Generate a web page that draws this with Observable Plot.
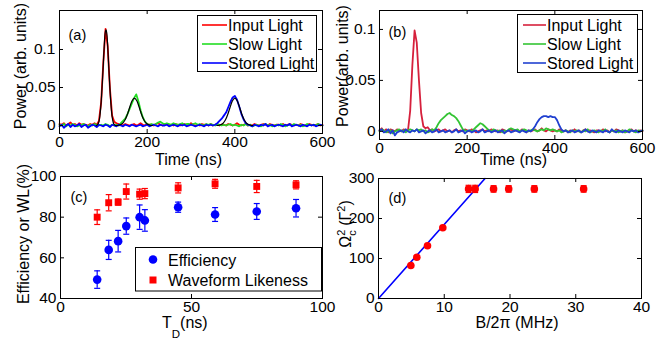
<!DOCTYPE html>
<html><head><meta charset="utf-8">
<script src="https://cdn.jsdelivr.net/npm/d3@7"></script>
<script src="https://cdn.jsdelivr.net/npm/@observablehq/plot@0.6"></script>
<style>
html,body{margin:0;padding:0;background:#fff;}
#fig{position:relative;width:670px;height:339px;overflow:hidden;background:#fff;}
#fig > svg{position:absolute;margin:0;}
</style></head><body><div id="fig"></div>
<script>
// ---------- DATA ----------
// Panels (a),(b): power traces sampled every 5 ns from 0 to 600 ns, values in units of 0.001 (arb. units)
const timeStepNs = 5;
const inputA = [
  2,1,3,0,2,4,1,2,0,3,
  1,2,1,0,2,1,3,1,6,30,
  83,127,104,49,13,5,3,2,1,0,
  2,1,0,1,2,0,1,3,1,0,
  2,1,1,0,2,3,1,0,1,2,
  0,1,0,2,1,0,1,2,1,0,
  3,1,0,1,0,2,1,1,0,2,
  0,1,2,0,1,1,0,2,1,0,
  1,3,1,0,1,2,0,1,0,2,
  1,0,1,2,1,0,2,1,0,1,
  1,0,2,0,1,2,1,0,1,0,
  2,1,0,1,2,1,0,1,2,0,
  1];
const slowA = [
  1,0,2,-1,1,0,2,1,-1,0,
  1,2,0,-1,1,0,2,1,0,1,
  0,2,1,-1,1,0,1,0,3,6,
  9,15,22,29,36,41,32,20,11,5,
  2,1,2,1,2,4,5,3,2,3,
  2,1,3,2,1,2,3,1,2,2,
  1,2,3,1,2,1,0,2,1,2,
  1,0,2,1,0,1,0,1,2,0,
  1,0,-1,1,0,2,0,1,-1,0,
  1,0,-1,1,2,0,1,-1,0,1,
  0,2,1,-1,0,1,0,2,1,0,
  1,-1,0,2,1,0,1,0,2,1,
  0];
const storedA = [
  -1,1,-3,0,2,-2,1,-1,0,2,
  -2,0,1,-3,-1,1,0,-2,1,0,
  -1,1,0,-2,1,0,-1,1,0,-1,
  1,0,-1,1,0,-1,0,1,-1,0,
  1,-1,0,1,0,-1,1,0,0,1,
  -1,0,1,0,-1,1,0,1,-1,0,
  1,0,-1,0,1,0,-1,1,0,1,
  0,1,3,6,9,13,17,24,31,37,
  39,34,25,15,8,3,1,0,-1,1,
  0,-1,1,0,2,-1,0,1,-1,0,
  1,0,-1,1,0,2,-1,0,1,0,
  -1,1,0,-1,1,0,1,-1,0,1,
  0];
// Gaussian fits drawn in black in panel (a) (ns, 0.001 units)
const fitInputT = [84,88,92,96,99,102,104,106,108,110,113,116,120,124,128];
const fitInputV = [0,2,12,39,70,104,121,126,121,104,70,39,12,2,0];
const fitSlowT = [130,135,140,145,150,155,160,165,171,177,182,187,192,197,202,207,212];
const fitSlowV = [0,0.4,1.3,3.5,7.8,14.8,23.7,31.8,36,31.8,23.7,14.8,7.8,3.5,1.3,0.4,0];
const fitStoredT = [359,364,369,374,379,384,389,394,400,406,411,416,421,426,431,436,441];
const fitStoredV = [0,0.4,1.3,3.5,7.8,14.8,23.7,31.8,36,31.8,23.7,14.8,7.8,3.5,1.3,0.4,0];

const inputB = [
  1,3,0,2,-1,2,1,0,2,1,
  0,2,1,1,20,65,99,87,50,18,
  5,3,4,1,2,0,1,2,0,1,
  2,0,1,-1,1,2,0,1,0,2,
  1,0,2,1,-1,0,1,2,0,1,
  0,2,1,0,1,-1,2,1,0,1,
  2,0,1,1,0,2,1,-1,1,0,
  1,2,0,1,3,1,0,2,1,0,
  1,0,2,1,0,1,-1,1,0,2,
  0,1,-1,1,2,0,1,0,-1,1,
  1,0,2,0,1,-1,1,0,2,1,
  0,1,-1,0,1,2,0,1,0,1,
  0];
const slowB = [
  0,2,1,-1,0,1,-2,0,1,2,
  0,1,-1,1,2,1,0,2,1,2,
  0,1,-1,0,2,1,4,8,11,13,
  15,17,18,16,15,13,10,6,2,1,
  0,1,0,2,4,6,8,7,5,3,
  1,0,2,1,0,1,-1,1,0,2,
  3,2,1,2,0,1,2,1,0,1,
  2,1,0,1,2,1,3,2,1,2,
  1,0,1,-1,0,1,0,-1,1,0,
  1,0,-1,1,0,2,-1,0,1,0,
  -1,1,0,2,0,-1,1,0,1,-1,
  0,1,-1,0,2,1,0,-1,1,0,
  1];
const storedB = [
  1,2,-1,0,2,-2,1,-4,-1,0,
  1,-1,2,0,-1,1,0,2,-1,0,
  1,-2,0,1,-1,0,2,-1,0,1,
  -1,0,1,-1,0,2,-1,0,1,-2,
  0,1,-1,0,1,-1,0,2,-1,0,
  1,-1,0,1,-1,0,1,-2,0,1,
  -1,0,1,0,-1,1,0,-1,1,0,
  2,5,9,12,14,15,15,14,15,14,
  14,11,6,2,0,1,-1,0,1,-1,
  0,1,-1,0,2,0,-1,1,0,-1,
  1,0,-1,1,0,-1,2,0,-1,1,
  0,-1,1,0,-1,1,0,1,-1,0,
  1];

// Panel (c)
const tdC = [14.0, 18.4, 22.0, 25.1, 30.2, 32.2, 44.9, 59.0, 74.9, 89.9];
const effC = [49.3, 63.9, 68.2, 75.6, 80.0, 78.4, 84.9, 81.3, 82.8, 84.4];
const effErrC = [4.3, 4.7, 5.3, 4.0, 6.0, 5.3, 2.5, 3.4, 3.9, 4.3];
const wlC = [80.0, 87.1, 87.4, 92.6, 91.3, 91.6, 94.4, 96.4, 95.1, 95.9];
const wlErrC = [3.6, 4.0, 1.5, 3.7, 2.5, 2.5, 2.5, 2.2, 3.0, 2.0];

// Panel (d)
const bD = [4.92, 5.83, 7.45, 9.78, 13.7, 14.7, 17.5, 19.8, 23.7, 31.2];
const omegaD = [82.5, 103, 131.7, 176.7, 274, 274, 274, 274, 274, 274];
const omegaErrD = [3, 3, 3, 3, 9, 9, 8, 8, 8, 8];
const fitB = [0, 16.2];
const fitOmega = [0, 300];

// Tick labels
const xTicksAB = [0, 200, 400, 600];
const yTicksA = [0, 0.05, 0.1];
const yTicksB = [0, 0.05, 0.1];
const xTicksC = [0, 50, 100];
const yTicksC = [40, 60, 80, 100];
const xTicksD = [0, 10, 20, 30, 40];
const yTicksD = [0, 100, 200, 300];

const legendAB = ["Input Light", "Slow Light", "Stored Light"];
const legendC = ["Efficiency", "Waveform Likeness"];

// ---------- BUILD ----------
const FONT = '"Liberation Sans", Arial, Helvetica, sans-serif';
const TICK_FS = 15.5;
const LABEL_FS = 16;
const times = d3.range(0, 600 + timeStepNs, timeStepNs);
const trace = vals => vals.map((v, i) => ({t: times[i], v: v / 1000}));
const fit = (T, V) => T.map((t, i) => ({t, v: V[i] / 1000}));
const fmt = d => String(d);
const capSymbol = {draw(ctx, size) { const w = Math.sqrt(size / Math.PI); ctx.moveTo(-w, 0); ctx.lineTo(w, 0); }};

function frameMarks(xTicks, yTicks, W, H) {
  const L = 4;
  return [
    Plot.frame({stroke: "black", strokeWidth: 1}),
    Plot.tickX(xTicks, {x: d => d, insetTop: H - L, stroke: "black"}),
    Plot.tickX(xTicks, {x: d => d, insetBottom: H - L, stroke: "black"}),
    Plot.tickY(yTicks, {y: d => d, insetLeft: W - L, stroke: "black"}),
    Plot.tickY(yTicks, {y: d => d, insetRight: W - L, stroke: "black"}),
    Plot.axisX(xTicks, {tickSize: 0, tickPadding: 2, label: null, tickFormat: fmt, fontSize: TICK_FS}),
    Plot.axisY(yTicks, {tickSize: 0, tickPadding: 4, label: null, tickFormat: fmt, fontSize: TICK_FS})
  ];
}
const baseStyle = {fontFamily: FONT, fontSize: TICK_FS + "px", background: "transparent", color: "black", overflow: "visible"};
const panelLabel = (s, dx, dy) => Plot.text([s], {text: d => d, frameAnchor: "top-left", dx, dy, textAnchor: "start", lineAnchor: "middle", fontSize: 14.5});

const fig = document.getElementById("fig");
function place(svg, left, top) { svg.style.left = left + "px"; svg.style.top = top + "px"; fig.appendChild(svg); }

// (a)
{
  const mL = 59, mR = 13, mT = 10, mB = 37, W = 335, H = 170;
  const p = Plot.plot({
    width: W, height: H, marginLeft: mL, marginRight: mR, marginTop: mT, marginBottom: mB,
    style: baseStyle,
    x: {domain: [0, 600], label: null},
    y: {domain: [-0.0105, 0.1513], label: null},
    marks: [
      Plot.lineY(trace(inputA), {x: "t", y: "v", stroke: "#ff0000", strokeWidth: 1.8}),
      Plot.lineY(trace(slowA), {x: "t", y: "v", stroke: "#22dd22", strokeWidth: 1.8}),
      Plot.lineY(trace(storedA), {x: "t", y: "v", stroke: "#0000ff", strokeWidth: 1.8}),
      Plot.lineY(fit(fitInputT, fitInputV), {x: "t", y: "v", stroke: "black", strokeWidth: 1.2, curve: "monotone-x"}),
      Plot.lineY(fit(fitSlowT, fitSlowV), {x: "t", y: "v", stroke: "black", strokeWidth: 1.2, curve: "monotone-x"}),
      Plot.lineY(fit(fitStoredT, fitStoredV), {x: "t", y: "v", stroke: "black", strokeWidth: 1.2, curve: "monotone-x"}),
      ...frameMarks(xTicksAB, yTicksA, W - mL - mR, H - mT - mB),
      panelLabel("(a)", 9, 25)
    ]
  });
  place(p, 0, 0);
}
// (b)
{
  const mL = 44, mR = 28, mT = 10, mB = 31, W = 335, H = 170;
  const p = Plot.plot({
    width: W, height: H, marginLeft: mL, marginRight: mR, marginTop: mT, marginBottom: mB,
    style: baseStyle,
    x: {domain: [0, 600], label: null},
    y: {domain: [-0.008, 0.1186], label: null},
    marks: [
      Plot.lineY(trace(inputB), {x: "t", y: "v", stroke: "#d6203c", strokeWidth: 1.8}),
      Plot.lineY(trace(slowB), {x: "t", y: "v", stroke: "#33c433", strokeWidth: 1.8}),
      Plot.lineY(trace(storedB), {x: "t", y: "v", stroke: "#2040d0", strokeWidth: 1.8}),
      ...frameMarks(xTicksAB, yTicksB, W - mL - mR, H - mT - mB),
      panelLabel("(b)", 9, 22)
    ]
  });
  place(p, 335, 0);
}
// (c)
{
  const mL = 60, mR = 13, mT = 6, mB = 41, W = 335, H = 169;
  const rows = tdC.map((td, i) => ({td, eff: effC[i], effErr: effErrC[i], wl: wlC[i], wlErr: wlErrC[i]}));
  const p = Plot.plot({
    width: W, height: H, marginLeft: mL, marginRight: mR, marginTop: mT, marginBottom: mB,
    style: baseStyle,
    x: {domain: [0, 100], label: null},
    y: {domain: [40, 100], label: null},
    marks: [
      Plot.ruleX(rows, {x: "td", y1: d => d.wl - d.wlErr, y2: d => d.wl + d.wlErr, stroke: "#ff0000", strokeWidth: 1.2}),
      Plot.dot(rows, {x: "td", y: d => d.wl - d.wlErr, symbol: capSymbol, r: 3, stroke: "#ff0000", fill: "none", strokeWidth: 1.2}),
      Plot.dot(rows, {x: "td", y: d => d.wl + d.wlErr, symbol: capSymbol, r: 3, stroke: "#ff0000", fill: "none", strokeWidth: 1.2}),
      Plot.dot(rows, {x: "td", y: "wl", symbol: "square", r: 3.9, fill: "#ff0000", stroke: "none"}),
      Plot.ruleX(rows, {x: "td", y1: d => d.eff - d.effErr, y2: d => d.eff + d.effErr, stroke: "#0000ff", strokeWidth: 1.2}),
      Plot.dot(rows, {x: "td", y: d => d.eff - d.effErr, symbol: capSymbol, r: 3, stroke: "#0000ff", fill: "none", strokeWidth: 1.2}),
      Plot.dot(rows, {x: "td", y: d => d.eff + d.effErr, symbol: capSymbol, r: 3, stroke: "#0000ff", fill: "none", strokeWidth: 1.2}),
      Plot.dot(rows, {x: "td", y: "eff", r: 4.3, fill: "#0000ff", stroke: "none"}),
      ...frameMarks(xTicksC, yTicksC, W - mL - mR, H - mT - mB),
      panelLabel("(c)", 10, 21)
    ]
  });
  place(p, 0, 170);
}
// (d)
{
  const mL = 43, mR = 29, mT = 8, mB = 41, W = 335, H = 169;
  const rows = bD.map((b, i) => ({b, o: omegaD[i], e: omegaErrD[i]}));
  const line = fitB.map((b, i) => ({b, o: fitOmega[i]}));
  const p = Plot.plot({
    width: W, height: H, marginLeft: mL, marginRight: mR, marginTop: mT, marginBottom: mB,
    style: baseStyle,
    x: {domain: [0, 40], label: null},
    y: {domain: [0, 300], label: null},
    marks: [
      Plot.line(line, {x: "b", y: "o", stroke: "#0000ff", strokeWidth: 1.6}),
      Plot.ruleX(rows, {x: "b", y1: d => d.o - d.e, y2: d => d.o + d.e, stroke: "#ff0000", strokeWidth: 1.2}),
      Plot.dot(rows, {x: "b", y: d => d.o - d.e, symbol: capSymbol, r: 3, stroke: "#ff0000", fill: "none", strokeWidth: 1.2}),
      Plot.dot(rows, {x: "b", y: d => d.o + d.e, symbol: capSymbol, r: 3, stroke: "#ff0000", fill: "none", strokeWidth: 1.2}),
      Plot.dot(rows, {x: "b", y: "o", r: 3.8, fill: "#ff0000", stroke: "none"}),
      ...frameMarks(xTicksD, yTicksD, W - mL - mR, H - mT - mB),
      panelLabel("(d)", 10, 20)
    ]
  });
  place(p, 335, 170);
}

// ---------- overlay: axis titles and legends ----------
const ov = d3.create("svg").attr("width", 670).attr("height", 339)
  .style("position", "absolute").style("left", "0px").style("top", "0px")
  .attr("font-family", FONT).attr("font-size", LABEL_FS);
const t = (s, x, y, anchor = "middle", rot = 0) => {
  const e = ov.append("text").attr("text-anchor", anchor)
    .attr("transform", `translate(${x},${y})` + (rot ? ` rotate(${rot})` : ""));
  if (s != null) e.text(s);
  return e;
};
t("Time (ns)", 188.5, 164.5);
t("Time (ns)", 513.5, 164.5);
t("B/2\u03c0 (MHz)", 517, 328);
const tdl = t(null, 162, 328, "start");
tdl.append("tspan").text("T");
tdl.append("tspan").attr("font-size", 11.5).attr("dy", 10).text("D");
tdl.append("tspan").attr("dy", -10).text("(ns)");
t("Power (arb. units)", 25.5, 66, "middle", -90);
t("Power(arb. units)", 348, 66, "middle", -90);
t("Efficiency or WL(%)", 28.5, 234, "middle", -90);
const om = t(null, 351, 224, "middle", -90);
om.append("tspan").text("\u03a9");
om.append("tspan").attr("font-size", 11).attr("dy", -6).text("2");
om.append("tspan").attr("font-size", 11).attr("dx", -6).attr("dy", 11).text("c");
om.append("tspan").attr("dy", -5).text(" (\u0393");
om.append("tspan").attr("font-size", 11).attr("dy", -6).text("2");
om.append("tspan").attr("dy", 6).text(")");

function lineLegend(x, y, w, h, rowsY, lx1, lx2, tx, colors) {
  ov.append("rect").attr("x", x).attr("y", y).attr("width", w).attr("height", h)
    .attr("fill", "white").attr("stroke", "black").attr("stroke-width", 1);
  legendAB.forEach((name, i) => {
    ov.append("line").attr("x1", lx1).attr("x2", lx2).attr("y1", rowsY[i]).attr("y2", rowsY[i])
      .attr("stroke", colors[i]).attr("stroke-width", 1.6);
    ov.append("text").attr("x", tx).attr("y", rowsY[i] + 5.7).text(name);
  });
}
lineLegend(197.5, 15.5, 119, 56, [25, 44, 63], 202, 227, 228, ["#ff0000", "#22dd22", "#0000ff"]);
lineLegend(517.5, 14.5, 120, 58, [25, 44, 63], 523, 546, 547, ["#d6203c", "#33c433", "#2040d0"]);
ov.append("rect").attr("x", 135.5).attr("y", 247.5).attr("width", 186).attr("height", 43.5)
  .attr("fill", "white").attr("stroke", "black").attr("stroke-width", 1);
ov.append("circle").attr("cx", 153).attr("cy", 259.5).attr("r", 4.3).attr("fill", "#0000ff");
ov.append("rect").attr("x", 149.5).attr("y", 276.5).attr("width", 7).attr("height", 7).attr("fill", "#ff0000");
ov.append("text").attr("x", 168).attr("y", 265.5).text(legendC[0]);
ov.append("text").attr("x", 168).attr("y", 286).text(legendC[1]);
fig.appendChild(ov.node());
</script></body></html>
